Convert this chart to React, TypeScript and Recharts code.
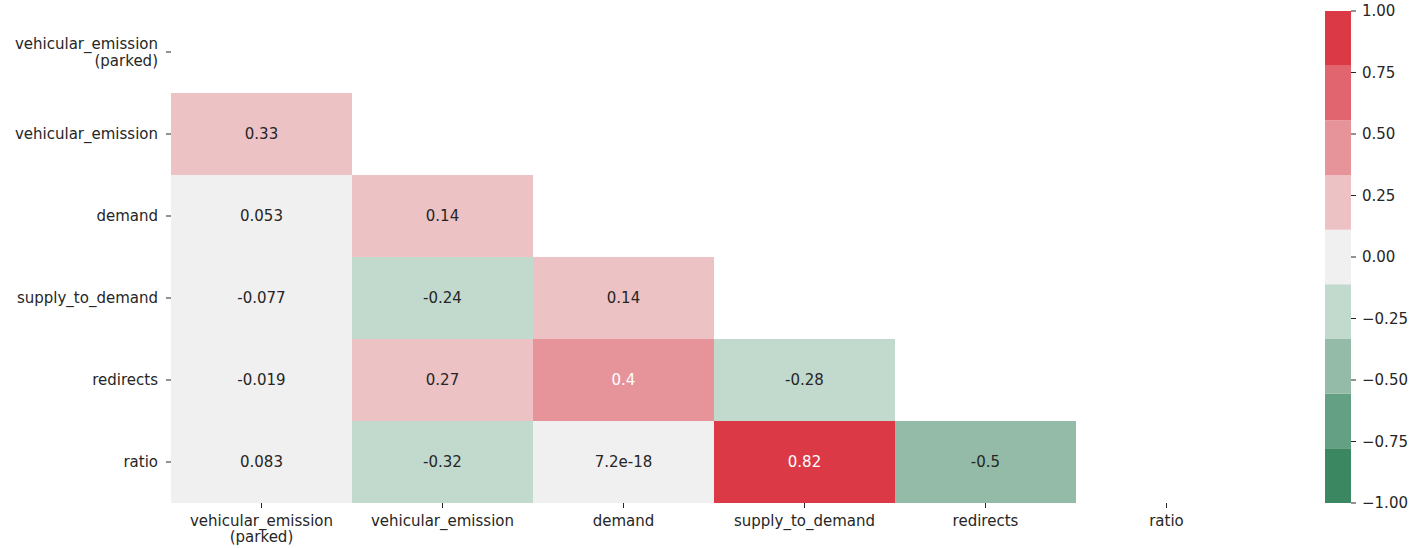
import {
  ComposedChart,
  Line,
  ReferenceArea,
  Scatter,
  ScatterChart,
  XAxis,
  YAxis,
} from 'recharts'

// variables of the correlation matrix (top to bottom / left to right)
const variables = [
  'vehicular_emission\n(parked)',
  'vehicular_emission',
  'demand',
  'supply_to_demand',
  'redirects',
  'ratio',
]

// lower triangle, one array per row (row 0 is fully masked)
const corrVehicularEmission = [0.33]
const corrDemand = [0.053, 0.14]
const corrSupplyToDemand = [-0.077, -0.24, 0.14]
const corrRedirects = [-0.019, 0.27, 0.4, -0.28]
const corrRatio = [0.083, -0.32, 7.2e-18, 0.82, -0.5]

const colorbarTicks = [-1, -0.75, -0.5, -0.25, 0, 0.25, 0.5, 0.75, 1]
const colorbarRange = [
  { x: 0, y: -1 },
  { x: 1, y: 1 },
]

// 9-step diverging palette, green -> gray -> red
const palette = [
  { fill: '#3b8762', text: '#ffffff' },
  { fill: '#64a084', text: '#ffffff' },
  { fill: '#93bba7', text: '#262626' },
  { fill: '#c2d9cd', text: '#262626' },
  { fill: '#f0f0f0', text: '#262626' },
  { fill: '#ecc2c5', text: '#262626' },
  { fill: '#e6949a', text: '#ffffff' },
  { fill: '#e0656f', text: '#ffffff' },
  { fill: '#dc3946', text: '#ffffff' },
]

const FONT = '"DejaVu Sans", sans-serif'
const INK = '#262626'
const PLOT_W = 1086
const PLOT_H = 492
const N = variables.length

const rows = [[], corrVehicularEmission, corrDemand, corrSupplyToDemand, corrRedirects, corrRatio]
const cells = rows.flatMap((vals, r) => vals.map((v, c) => ({ x: c + 0.5, y: r + 0.5, v })))
const centers = variables.map((_, i) => i + 0.5)

const bandOf = (v: number) => Math.min(palette.length - 1, Math.floor(((v + 1) / 2) * palette.length))
const fmt = (v: number) => String(Number(v.toPrecision(2)))

function Cell(props: any) {
  const { cx, cy, payload } = props
  const w = PLOT_W / N
  const h = PLOT_H / N
  const p = palette[bandOf(payload.v)]
  return (
    <g>
      <rect x={cx - w / 2} y={cy - h / 2} width={w} height={h} fill={p.fill} />
      <text x={cx} y={cy} dy={5} textAnchor="middle" fontSize={15} fontFamily={FONT} fill={p.text}>
        {fmt(payload.v)}
      </text>
    </g>
  )
}

function YTick(props: any) {
  const { x, y, payload } = props
  const lines = variables[Math.round(payload.value - 0.5)].split('\n')
  const first = 5.3 - ((lines.length - 1) * 16.5) / 2
  return (
    <text x={x} y={y} textAnchor="end" fontSize={15} fontFamily={FONT} fill={INK}>
      {lines.map((l, i) => (
        <tspan key={i} x={x} dy={i === 0 ? first : 16.5}>
          {l}
        </tspan>
      ))}
    </text>
  )
}

function XTick(props: any) {
  const { x, y, payload } = props
  const lines = variables[Math.round(payload.value - 0.5)].split('\n')
  return (
    <text x={x} y={y} textAnchor="middle" fontSize={15} fontFamily={FONT} fill={INK}>
      {lines.map((l, i) => (
        <tspan key={i} x={x} dy={i === 0 ? 15.5 : 16}>
          {l}
        </tspan>
      ))}
    </text>
  )
}

export default function App() {
  return (
    <div style={{ position: 'relative', width: 1410, height: 548, background: '#fff', overflow: 'hidden' }}>
      <style>{'body { margin: 0; }'}</style>
      <div style={{ position: 'absolute', left: 0, top: 0 }}>
        <ScatterChart width={1268} height={548} margin={{ top: 11, right: 11, bottom: 0, left: 8 }}>
          <XAxis
            type="number"
            dataKey="x"
            domain={[0, N]}
            ticks={centers}
            interval={0}
            height={45}
            axisLine={false}
            tickSize={5}
            tickLine={{ stroke: INK }}
            tick={<XTick />}
          />
          <YAxis
            type="number"
            dataKey="y"
            domain={[0, N]}
            reversed
            ticks={centers}
            interval={0}
            width={163}
            axisLine={false}
            tickSize={5}
            tickMargin={8}
            tickLine={{ stroke: INK }}
            tick={<YTick />}
          />
          <Scatter data={cells} shape={<Cell />} isAnimationActive={false} />
        </ScatterChart>
      </div>
      <div style={{ position: 'absolute', left: 1325, top: 0 }}>
        <ComposedChart
          width={85}
          height={548}
          data={colorbarRange}
          margin={{ top: 11, right: 0, bottom: 45, left: 0 }}
        >
          <XAxis type="number" dataKey="x" domain={[0, 1]} hide />
          <YAxis
            type="number"
            orientation="right"
            domain={[-1, 1]}
            ticks={colorbarTicks}
            interval={0}
            width={59}
            axisLine={false}
            tickSize={5}
            tickMargin={6}
            tickLine={{ stroke: INK }}
            tick={{ fontSize: 15, fontFamily: FONT, fill: INK }}
            tickFormatter={(v: number) => v.toFixed(2).replace('-', '\u2212')}
          />
          {palette.map((p, i) => (
            <ReferenceArea
              key={i}
              x1={0}
              x2={1}
              y1={-1 + (2 * i) / palette.length}
              y2={-1 + (2 * (i + 1)) / palette.length}
              fill={p.fill}
              fillOpacity={1}
              stroke="none"
              ifOverflow="visible"
            />
          ))}
          <Line dataKey="y" stroke="none" dot={false} activeDot={false} isAnimationActive={false} />
        </ComposedChart>
      </div>
    </div>
  )
}
